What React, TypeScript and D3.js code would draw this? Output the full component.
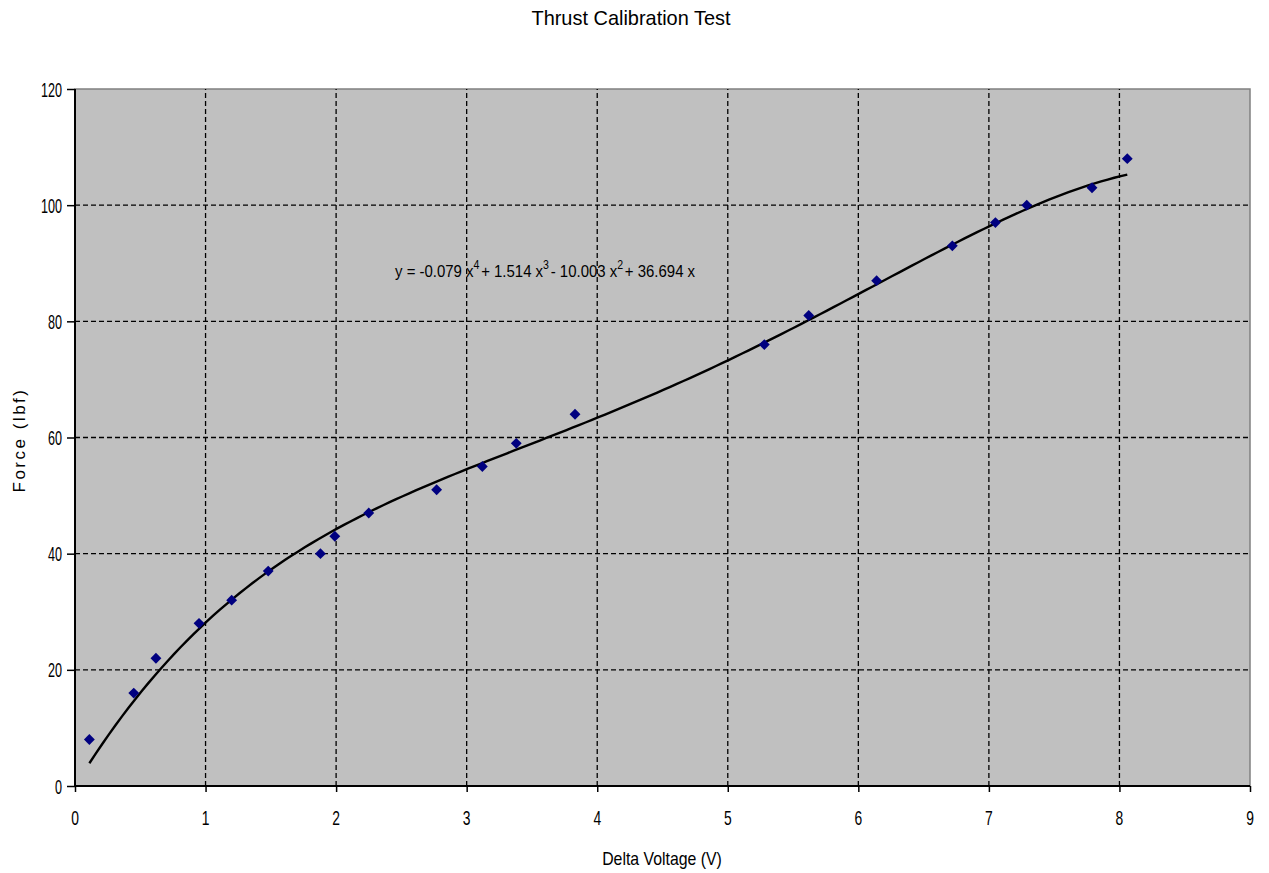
import React, { useRef, useEffect } from "react";
import * as d3 from "d3";

const width = 1269;
const height = 873;
const margin = { top: 89, right: 19, bottom: 87, left: 75 };

// measured calibration points
const voltage = [0.11, 0.45, 0.62, 0.95, 1.2, 1.48, 1.88, 1.99, 2.25, 2.77, 3.12, 3.38, 3.83, 5.28, 5.62, 6.14, 6.72, 7.05, 7.29, 7.79, 8.06];
const force = [8, 16, 22, 28, 32, 37, 40, 43, 47, 51, 55, 59, 64, 76, 81, 87, 93, 97, 100, 103, 108];

// trendline coefficients, highest power first (x^4 .. x^1), no constant
const coeffs = [-0.079, 1.514, -10.003, 36.694];

const xTicks = [0, 1, 2, 3, 4, 5, 6, 7, 8, 9];
const yTicks = [0, 20, 40, 60, 80, 100, 120];

const font = "'Liberation Sans', Arial, sans-serif";

const App = () => {
  const ref = useRef(null);

  useEffect(() => {
    document.body.style.margin = "0";
    const svg = d3.select(ref.current);
    svg.selectAll("*").remove();

    const x = d3.scaleLinear().domain([0, 9]).range([margin.left, width - margin.right]);
    const y = d3.scaleLinear().domain([0, 120]).range([height - margin.bottom, margin.top]);

    // narrow-looking text: squeeze horizontally
    const label = (px, py, sx, size, txt, anchor = "middle") =>
      svg
        .append("g")
        .attr("transform", `translate(${px},${py}) scale(${sx},1)`)
        .append("text")
        .attr("text-anchor", anchor)
        .attr("font-family", font)
        .attr("font-size", size)
        .attr("fill", "#000")
        .text(txt);

    svg.append("rect").attr("width", width).attr("height", height).attr("fill", "white");

    // plot area
    svg
      .append("rect")
      .attr("x", x(0))
      .attr("y", y(120))
      .attr("width", x(9) - x(0))
      .attr("height", y(0) - y(120))
      .attr("fill", "#c0c0c0")
      .attr("stroke", "#808080")
      .attr("stroke-width", 1.5);

    // grid
    const grid = svg.append("g").attr("stroke", "#000").attr("stroke-width", 1.3).attr("stroke-dasharray", "5,3");
    grid
      .selectAll("line.v")
      .data(xTicks.slice(1, -1))
      .join("line")
      .attr("x1", (d) => x(d))
      .attr("x2", (d) => x(d))
      .attr("y1", y(0))
      .attr("y2", y(120));
    grid
      .selectAll("line.h")
      .data(yTicks.slice(1, -1))
      .join("line")
      .attr("class", "h")
      .attr("x1", x(0))
      .attr("x2", x(9))
      .attr("y1", (d) => y(d))
      .attr("y2", (d) => y(d));

    // axes (lines + ticks from d3, labels drawn below)
    const xAxis = svg
      .append("g")
      .attr("transform", `translate(0,${y(0)})`)
      .call(d3.axisBottom(x).tickValues(xTicks).tickSize(6).tickFormat(() => ""));
    const yAxis = svg
      .append("g")
      .attr("transform", `translate(${x(0)},0)`)
      .call(d3.axisLeft(y).tickValues(yTicks).tickSize(8).tickFormat(() => ""));
    [xAxis, yAxis].forEach((g) => {
      g.select(".domain").attr("stroke", "#000").attr("stroke-width", 2);
      g.selectAll(".tick line").attr("stroke", "#000").attr("stroke-width", 1.5);
    });
    xAxis.select(".domain").attr("d", `M${x(0)},0H${x(9)}`);
    yAxis.select(".domain").attr("d", `M0,${y(0)}V${y(120)}`);

    xTicks.forEach((t) => label(x(t), y(0) + 39, 0.66, 21, String(t)));
    yTicks.forEach((t) => label(x(0) - 13, y(t) + 7.5, 0.6, 21, String(t), "end"));

    // trendline
    const poly = (v) => coeffs.reduce((acc, c) => (acc + c) * v, 0);
    const xs = d3.range(voltage[0], voltage[voltage.length - 1] + 0.0001, 0.05);
    const line = d3
      .line()
      .x((d) => x(d))
      .y((d) => y(poly(d)));
    svg.append("path").datum(xs).attr("d", line).attr("fill", "none").attr("stroke", "#000").attr("stroke-width", 2.4);

    // markers
    svg
      .append("g")
      .selectAll("path")
      .data(voltage.map((v, i) => [v, force[i]]))
      .join("path")
      .attr("d", d3.symbol(d3.symbolDiamond2, 75))
      .attr("transform", (d) => `translate(${x(d[0])},${y(d[1])})`)
      .attr("fill", "#000080");

    // equation label
    const eq = svg
      .append("g")
      .attr("transform", "translate(395,277) scale(0.88,1)")
      .append("text")
      .attr("font-family", font)
      .attr("font-size", 17)
      .attr("fill", "#000");
    const parts = ["y = -0.079 x", "4", "+ 1.514 x", "3", "- 10.003 x", "2", "+ 36.694 x"];
    parts.forEach((p, i) => {
      const t = eq.append("tspan").text(p);
      if (i % 2 === 1) t.attr("dy", -8).attr("font-size", 12);
      else if (i > 0) t.attr("dy", 8).attr("dx", 2);
    });

    // titles
    label(631, 25, 0.95, 21, "Thrust Calibration Test");
    label(662, 865, 0.88, 18, "Delta Voltage (V)");
    svg
      .append("g")
      .attr("transform", "translate(25,440) rotate(-90)")
      .append("text")
      .attr("text-anchor", "middle")
      .attr("font-family", font)
      .attr("font-size", 17)
      .attr("fill", "#000")
      .attr("letter-spacing", 2.5)
      .text("Force (lbf)");
  }, []);

  return <svg ref={ref} width={width} height={height} style={{ display: "block" }} />;
};

export default App;
